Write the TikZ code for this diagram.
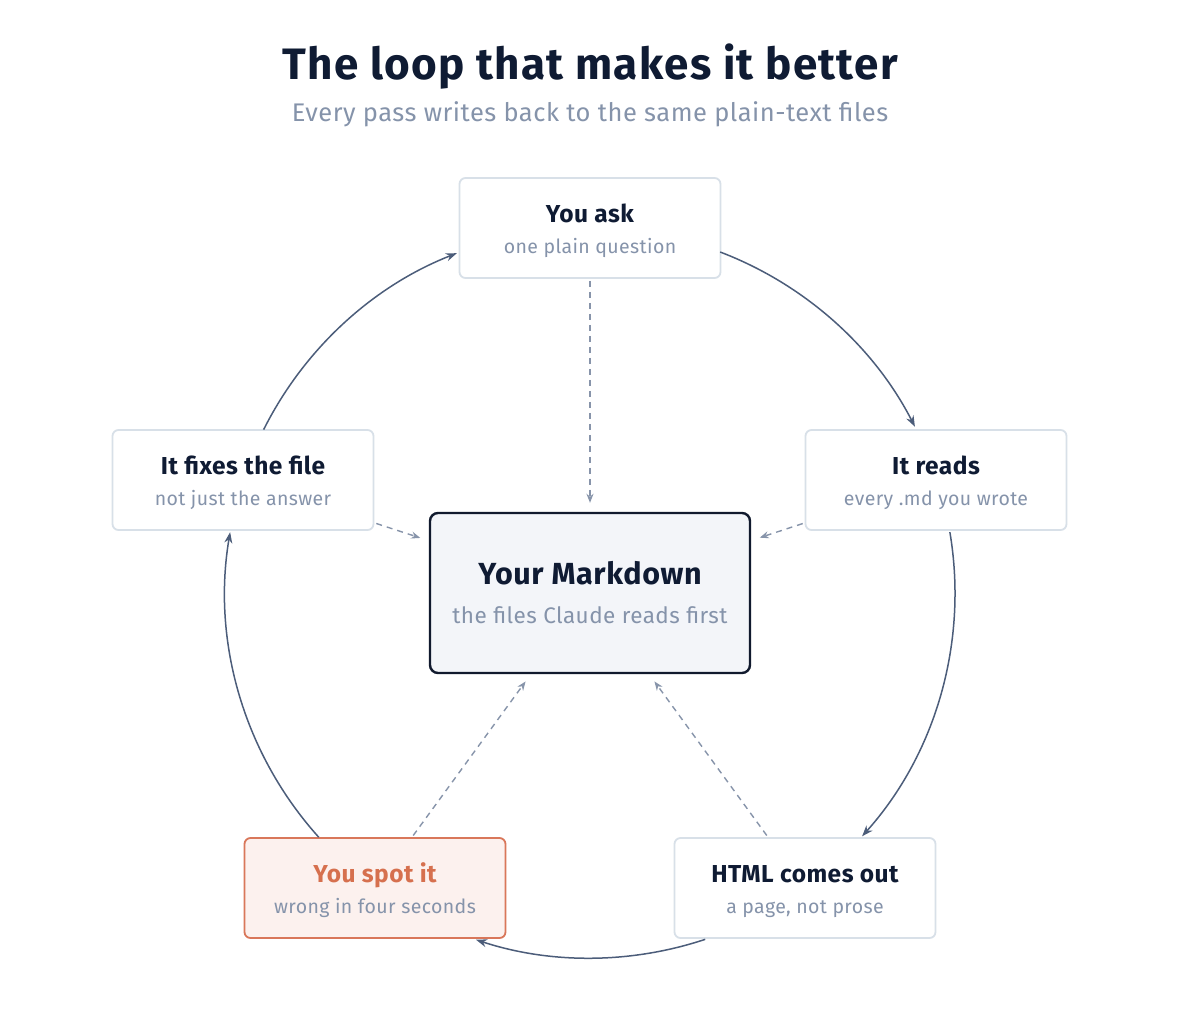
\documentclass[tikz,border=0pt]{standalone}
\usepackage{fontspec}
\setmainfont{Fira Sans}[LetterSpace=2]
\usetikzlibrary{arrows.meta,calc}
\definecolor{navy}{HTML}{0F1B33}
\definecolor{subgray}{HTML}{8593AA}
\definecolor{boxline}{HTML}{D8E0E8}
\definecolor{arcline}{HTML}{4C5D7A}
\definecolor{dashline}{HTML}{8794AA}
\definecolor{corefill}{HTML}{F3F5F9}
\definecolor{corebord}{HTML}{111A2E}
\definecolor{spotfill}{HTML}{FCF1EE}
\definecolor{spotbord}{HTML}{D9775A}
\definecolor{spottext}{HTML}{D6704E}
\begin{document}
\begin{tikzpicture}[x=1pt,y=-1pt,
  stagebox/.style={draw=boxline,line width=1.8pt,fill=white,rounded corners=6pt,
    minimum width=261pt,minimum height=100pt,inner sep=0pt},
  corebox/.style={draw=corebord,line width=2.4pt,fill=corefill,rounded corners=8pt,
    minimum width=320pt,minimum height=160pt,inner sep=0pt},
  spotbox/.style={stagebox,draw=spotbord,fill=spotfill},
  ttl/.style={anchor=base,inner sep=0pt,text=navy,font=\fontsize{24.5}{28}\selectfont\bfseries},
  subt/.style={anchor=base,inner sep=0pt,text=subgray,font=\fontsize{19.5}{23}\selectfont},
  cycle/.style={draw=arcline,line width=1.5pt,-{Stealth[length=11pt,width=8pt]}},
  feed/.style={draw=dashline,line width=1.4pt,dash pattern=on 6pt off 5pt,
    -{Stealth[length=9pt,width=7pt]},shorten <=2pt,shorten >=9pt}
]
\path[fill=white,use as bounding box] (0,0) rectangle (1180,1012);

% title
\node[anchor=base,inner sep=0pt,text=navy,font=\fontsize{44}{50}\selectfont\bfseries\addfontfeatures{LetterSpace=3}] (title) at (590,79) {The loop that makes it better};
\node[anchor=base,inner sep=0pt,text=subgray,font=\fontsize{25.5}{30}\selectfont] (subtitle) at (590,121) {Every pass writes back to the same plain-text files};

% center of the loop
\coordinate (O) at (590,593);

% boxes
\node[stagebox] (ask) at (590,228) {};
\node[stagebox] (reads) at (936,480) {};
\node[stagebox] (html) at (805,888) {};
\node[spotbox] (spot) at (375,888) {};
\node[stagebox] (fix) at (243,480) {};
\node[corebox] (core) at (590,593) {};

% labels
\node[ttl] (ask-t) at ($(ask.center)+(0,-6)$) {You ask};
\node[subt] (ask-s) at ($(ask.center)+(0,25)$) {one plain question};
\node[ttl] (reads-t) at ($(reads.center)+(0,-6)$) {It reads};
\node[subt] (reads-s) at ($(reads.center)+(0,25)$) {every .md you wrote};
\node[ttl] (html-t) at ($(html.center)+(0,-6)$) {HTML comes out};
\node[subt] (html-s) at ($(html.center)+(0,25)$) {a page, not prose};
\node[ttl,text=spottext] (spot-t) at ($(spot.center)+(0,-6)$) {You spot it};
\node[subt] (spot-s) at ($(spot.center)+(0,25)$) {wrong in four seconds};
\node[ttl] (fix-t) at ($(fix.center)+(0,-6)$) {It fixes the file};
\node[subt] (fix-s) at ($(fix.center)+(0,25)$) {not just the answer};
\node[ttl,font=\fontsize{30.5}{35}\selectfont\bfseries] (core-t) at ($(core.center)+(0,-9)$) {Your Markdown};
\node[subt,font=\fontsize{22.5}{26}\selectfont] (core-s) at ($(core.center)+(0,30)$) {the files Claude reads first};

% cycle arcs
\draw[cycle] (O) ++(-69.1:365) arc[start angle=-69.1,end angle=-27.1,radius=365];
\draw[cycle] (O) ++(-9.6:365) arc[start angle=-9.6,end angle=41.8,radius=365];
\draw[cycle] (O) ++(71.6:365) arc[start angle=71.6,end angle=108.2,radius=365];
\draw[cycle] (O) ++(138:365) arc[start angle=138,end angle=189.6,radius=365];
\draw[cycle] (O) ++(206.6:365) arc[start angle=206.6,end angle=248.6,radius=365];

% dashed feeds into the markdown
\draw[feed] (ask) -- (core);
\draw[feed] (reads) -- (core);
\draw[feed] (html) -- (core);
\draw[feed] (spot) -- (core);
\draw[feed] (fix) -- (core);
\end{tikzpicture}
\end{document}
